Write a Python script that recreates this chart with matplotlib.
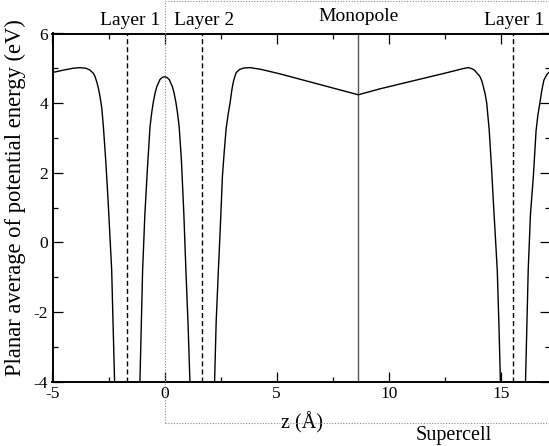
import numpy as np
import matplotlib
matplotlib.use("Agg")
import matplotlib.pyplot as plt
from matplotlib.ticker import MultipleLocator
from matplotlib.lines import Line2D
import matplotlib.transforms as mtransforms

plt.rcParams['font.family'] = ['Liberation Serif', 'DejaVu Serif']
plt.rcParams['axes.unicode_minus'] = False

# ---- data ----
nan = np.nan
z_vals = [
    -5.00, -4.50, -4.10, -3.77, -3.50, -3.33, -3.18, -3.10, -3.03, -2.95, -2.88,
    -2.80, -2.73, -2.62, -2.52, -2.44, -2.36, -2.30, -2.23, -2.21,
    nan,
    -1.12, -1.10, -1.04, -0.98, -0.88, -0.77, -0.65, -0.57, -0.50, -0.42, -0.35,
    -0.205, -0.10, 0.00, 0.10, 0.205, 0.35, 0.42, 0.50, 0.57, 0.65, 0.75, 0.86,
    0.95, 1.05, 1.13, 1.15,
    nan,
    2.21, 2.23, 2.30, 2.40, 2.49, 2.58, 2.66, 2.75, 2.84, 2.92, 3.00, 3.07,
    3.14, 3.20, 3.35, 3.55, 3.81, 4.30, 5.15, 8.64,
    9.60, 12.50, 13.00, 13.30, 13.54, 13.66, 13.77, 13.85, 13.92, 14.00, 14.07,
    14.15, 14.22, 14.30, 14.37, 14.48, 14.59, 14.68, 14.77, 14.84, 14.92, 14.98,
    15.00,
    nan,
    16.08, 16.10, 16.16, 16.22, 16.32, 16.45, 16.57, 16.65, 16.74, 16.83, 16.92,
    17.05, 17.17,
]
v_vals = [
    4.88, 4.95, 5.00, 5.02, 5.00, 4.95, 4.86, 4.76, 4.62, 4.42, 4.19,
    3.85, 3.32, 2.30, 1.20, 0.20, -0.79, -2.30, -4.00, -4.60,
    nan,
    -4.60, -4.00, -2.40, -0.80, 0.80, 2.08, 3.32, 3.75, 4.04, 4.30, 4.47,
    4.68, 4.74, 4.76, 4.74, 4.68, 4.47, 4.30, 4.04, 3.75, 3.32, 2.37, 0.80,
    -0.79, -2.40, -4.00, -4.60,
    nan,
    -4.60, -4.00, -2.30, -0.79, 0.50, 1.90, 2.60, 3.30, 3.70, 4.00, 4.38, 4.62,
    4.78, 4.88, 4.97, 5.01, 5.02, 4.97, 4.84, 4.24,
    4.41, 4.86, 4.94, 4.99, 5.02, 5.00, 4.97, 4.93, 4.87, 4.82, 4.76,
    4.64, 4.47, 4.26, 4.00, 3.23, 2.08, 1.00, 0.00, -0.80, -2.50, -4.00,
    -4.60,
    nan,
    -4.60, -4.00, -2.40, -0.80, 0.80, 1.90, 3.20, 3.65, 4.00, 4.38, 4.66,
    4.82, 4.90,
]

layer_pos = [-1.66, 1.66, 15.53]
layer_names = ["Layer 1", "Layer 2", "Layer 1"]
monopole_pos = 8.64
supercell_start = 0.0

x_ticks = [-5, 0, 5, 10, 15]
y_ticks = [-4, -2, 0, 2, 4, 6]

W, H = 549, 446
fig = plt.figure(figsize=(W / 100, H / 100), dpi=100)
L, R, B, T = 52.5, 549.5, 381.7, 33.5
ax = fig.add_axes([L / W, (H - B) / H, (R - L) / W, (B - T) / H])

ax.plot(z_vals, v_vals, color='black', lw=1.0, zorder=3)

for zp in layer_pos:
    ax.axvline(zp, color='black', lw=1.0, dashes=(3.6, 2.2), zorder=2)
ax.axvline(monopole_pos, color='#555555', lw=1.0, zorder=2)

ax.set_xlim(-5, 17.17)
ax.set_ylim(-4, 6)
ax.set_xticks(x_ticks)
ax.set_yticks(y_ticks)
ax.xaxis.set_minor_locator(MultipleLocator(2.5))
ax.yaxis.set_minor_locator(MultipleLocator(1))
ax.tick_params(which='both', direction='in', top=True, right=True,
               labelsize=12.5, pad=3)
ax.tick_params(which='major', length=7.2, width=0.9)
ax.tick_params(which='minor', length=3.6, width=0.9)
for s in ['left', 'bottom', 'top']:
    ax.spines[s].set_linewidth(1.4)
ax.spines['right'].set_visible(False)

# supercell dotted frame (figure-level)
tr = mtransforms.blended_transform_factory(ax.transData, fig.transFigure)
dot_kw = dict(color='#8a8a8a', lw=0.8, linestyle=(0, (1, 1.5)), clip_on=False,
              transform=tr, zorder=1)
y_top = (H - 1.0) / H
y_bot = (H - 423.0) / H
fig.add_artist(Line2D([supercell_start, supercell_start], [y_bot, y_top], **dot_kw))
fig.add_artist(Line2D([supercell_start, 17.17], [y_top, y_top], **dot_kw))
fig.add_artist(Line2D([supercell_start, 17.17], [y_bot, y_bot], **dot_kw))

# top labels
offs = [0.14, 0.10, 0.05]
for zp, name, o in zip(layer_pos, layer_names, offs):
    ax.text(zp + o, (H - 25.0) / H, name, transform=tr, ha='center',
            va='baseline', fontsize=14)
ax.text(monopole_pos + 0.03, (H - 21.0) / H, "Monopole", transform=tr,
        ha='center', va='baseline', fontsize=14)

ax.text(6.13, (H - 428.0) / H, "z (Å)", transform=tr, ha='center',
        va='baseline', fontsize=14.5)
ax.text(12.88, (H - 440.0) / H, "Supercell", transform=tr, ha='center',
        va='baseline', fontsize=14.5)

fig.text(15 / W, (H - 198) / H, "Planar average of potential energy (eV)",
         rotation=90, ha='center', va='center', fontsize=16.3)

fig.savefig("out.png", dpi=100)
